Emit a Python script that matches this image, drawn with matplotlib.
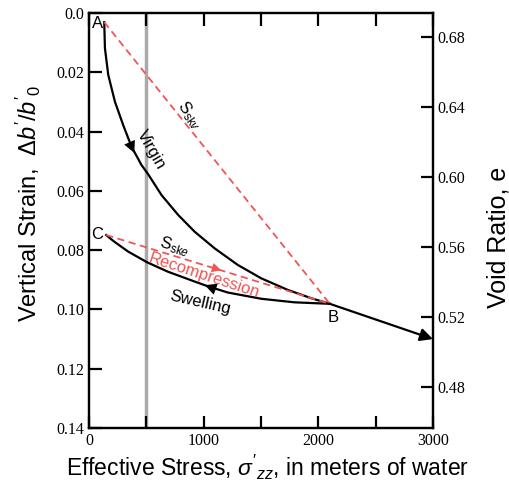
import matplotlib.pyplot as plt
import numpy as np

plt.rcParams['mathtext.fontset'] = 'custom'
plt.rcParams['mathtext.rm'] = 'Liberation Sans'
plt.rcParams['mathtext.it'] = 'Liberation Sans:italic'

# points (stress in m of water, strain)
A = (133, 0.0031)
B = (2100, 0.0981)
C = (150, 0.0749)
end = (3000, 0.110)

# virgin compression curve A -> B
virgin_x = [133, 139, 168, 226, 298, 371, 458, 516, 632, 777, 922, 1096, 1298, 1502, 1733, 1937, 2100]
virgin_y = [0.0031, 0.0119, 0.0209, 0.0299, 0.0378, 0.0451, 0.0513, 0.0544, 0.0614, 0.0681,
            0.0738, 0.0794, 0.0850, 0.0895, 0.0934, 0.0962, 0.0981]

# swelling curve B -> C
swell_x = [2100, 1791, 1502, 1211, 1037, 922, 690, 507, 342, 226, 180, 150]
swell_y = [0.0981, 0.0976, 0.0964, 0.0943, 0.0922, 0.0906, 0.0873, 0.0841, 0.0805, 0.0773,
           0.0759, 0.0749]

e0 = 0.6937
red = '#f25454'

fig = plt.figure(figsize=(5.10, 4.86), dpi=100)
ax = fig.add_axes([0.1745, 0.1193, 0.6745, 0.854])

ax.axvline(500, color='#aaaaaa', lw=2.5, zorder=1)

ax.plot(virgin_x, virgin_y, color='black', lw=1.6, solid_joinstyle='round')
ax.plot(swell_x, swell_y, color='black', lw=1.6, solid_joinstyle='round')
ax.plot([A[0], B[0]], [A[1], B[1]], color=red, lw=1.3, ls=(0, (4, 2.5)))
ax.plot([C[0], B[0]], [C[1], B[1]], color=red, lw=1.3, ls=(0, (4, 2.5)))

# arrowheads along the curves
head = dict(arrowstyle='-|>', lw=0, shrinkA=0, shrinkB=0)
ax.annotate('', xy=(395, 0.0472), xytext=(371, 0.0451),
            arrowprops=dict(head, color='black', mutation_scale=21))
ax.annotate('', xy=(1010, 0.0918), xytext=(1100, 0.0931),
            arrowprops=dict(head, color='black', mutation_scale=21))
ax.annotate('', xy=(1154, 0.0868), xytext=(1050, 0.0856),
            arrowprops=dict(head, color=red, mutation_scale=17))
ax.annotate('', xy=end, xytext=B, annotation_clip=False,
            arrowprops=dict(arrowstyle='-|>', color='black', lw=1.6, mutation_scale=19,
                            shrinkA=0, shrinkB=0))

# labels
fs = 12
ax.text(A[0] - 12, A[1] + 0.0003, 'A', ha='right', va='center', fontsize=fs, family='Liberation Sans')
ax.text(B[0] + 30, B[1] + 0.0022, 'B', ha='center', va='top', fontsize=fs, family='Liberation Sans')
ax.text(C[0] - 25, C[1] - 0.0002, 'C', ha='right', va='center', fontsize=fs, family='Liberation Sans')
ax.text(877, 0.0344, r'$\mathrm{S}_{\mathrm{sk}v}$', rotation=-55, ha='center', va='center', fontsize=fs)
ax.text(545, 0.0462, 'Virgin', rotation=-60, ha='center', va='center', fontsize=fs, family='Liberation Sans')
ax.text(748, 0.0788, r'$\mathrm{S}_{\mathrm{sk}e}$', rotation=-17, ha='center', va='center', fontsize=fs)
ax.text(1000, 0.0886, 'Recompression', rotation=-18, ha='center', va='center', fontsize=fs,
        color=red, family='Liberation Sans')
ax.text(974, 0.0978, 'Swelling', rotation=-13, ha='center', va='center', fontsize=fs, family='Liberation Sans')

ax.set_xlim(0, 3000)
ax.set_ylim(0.14, 0.0)
ax.set_xticks(np.arange(0, 3001, 500))
ax.set_xticklabels(['0', '', '1000', '', '2000', '', '3000'])
ax.set_yticks(np.arange(0, 0.141, 0.02))
ax.set_yticklabels(['0.0', '0.02', '0.04', '0.06', '0.08', '0.10', '0.12', '0.14'])
ax.tick_params(direction='in', length=9, width=1.6, top=True, labelsize=11.5)
for lab in ax.get_xticklabels() + ax.get_yticklabels():
    lab.set_family('Liberation Serif')
for s in ax.spines.values():
    s.set_linewidth(1.6)

ax2 = ax.twinx()
ax2.set_ylim(e0 - (1 + e0) * 0.14, e0)
ax2.set_yticks([0.48, 0.52, 0.56, 0.60, 0.64, 0.68])
ax2.set_yticklabels(['0.48', '0.52', '0.56', '0.60', '0.64', '0.68'])
ax2.tick_params(direction='in', length=9, width=1.6, labelsize=11.5)
for lab in ax2.get_yticklabels():
    lab.set_family('Liberation Serif')
for s in ax2.spines.values():
    s.set_linewidth(1.6)

ax.set_xlabel(r"Effective Stress, $\sigma'_{zz}$, in meters of water", fontsize=16.5,
              family='Liberation Sans', labelpad=3)
ax.xaxis.label.set_x(0.52)
ax.set_ylabel(r"Vertical Strain,  $\Delta b'/b'_0$", fontsize=17, family='Liberation Sans')
ax.yaxis.set_label_coords(-0.135, 0.54)
ax2.set_ylabel(r"Void Ratio, e", fontsize=18, family='Liberation Sans')
ax2.yaxis.set_label_coords(1.155, 0.46)

fig.savefig('out.png', dpi=100)
